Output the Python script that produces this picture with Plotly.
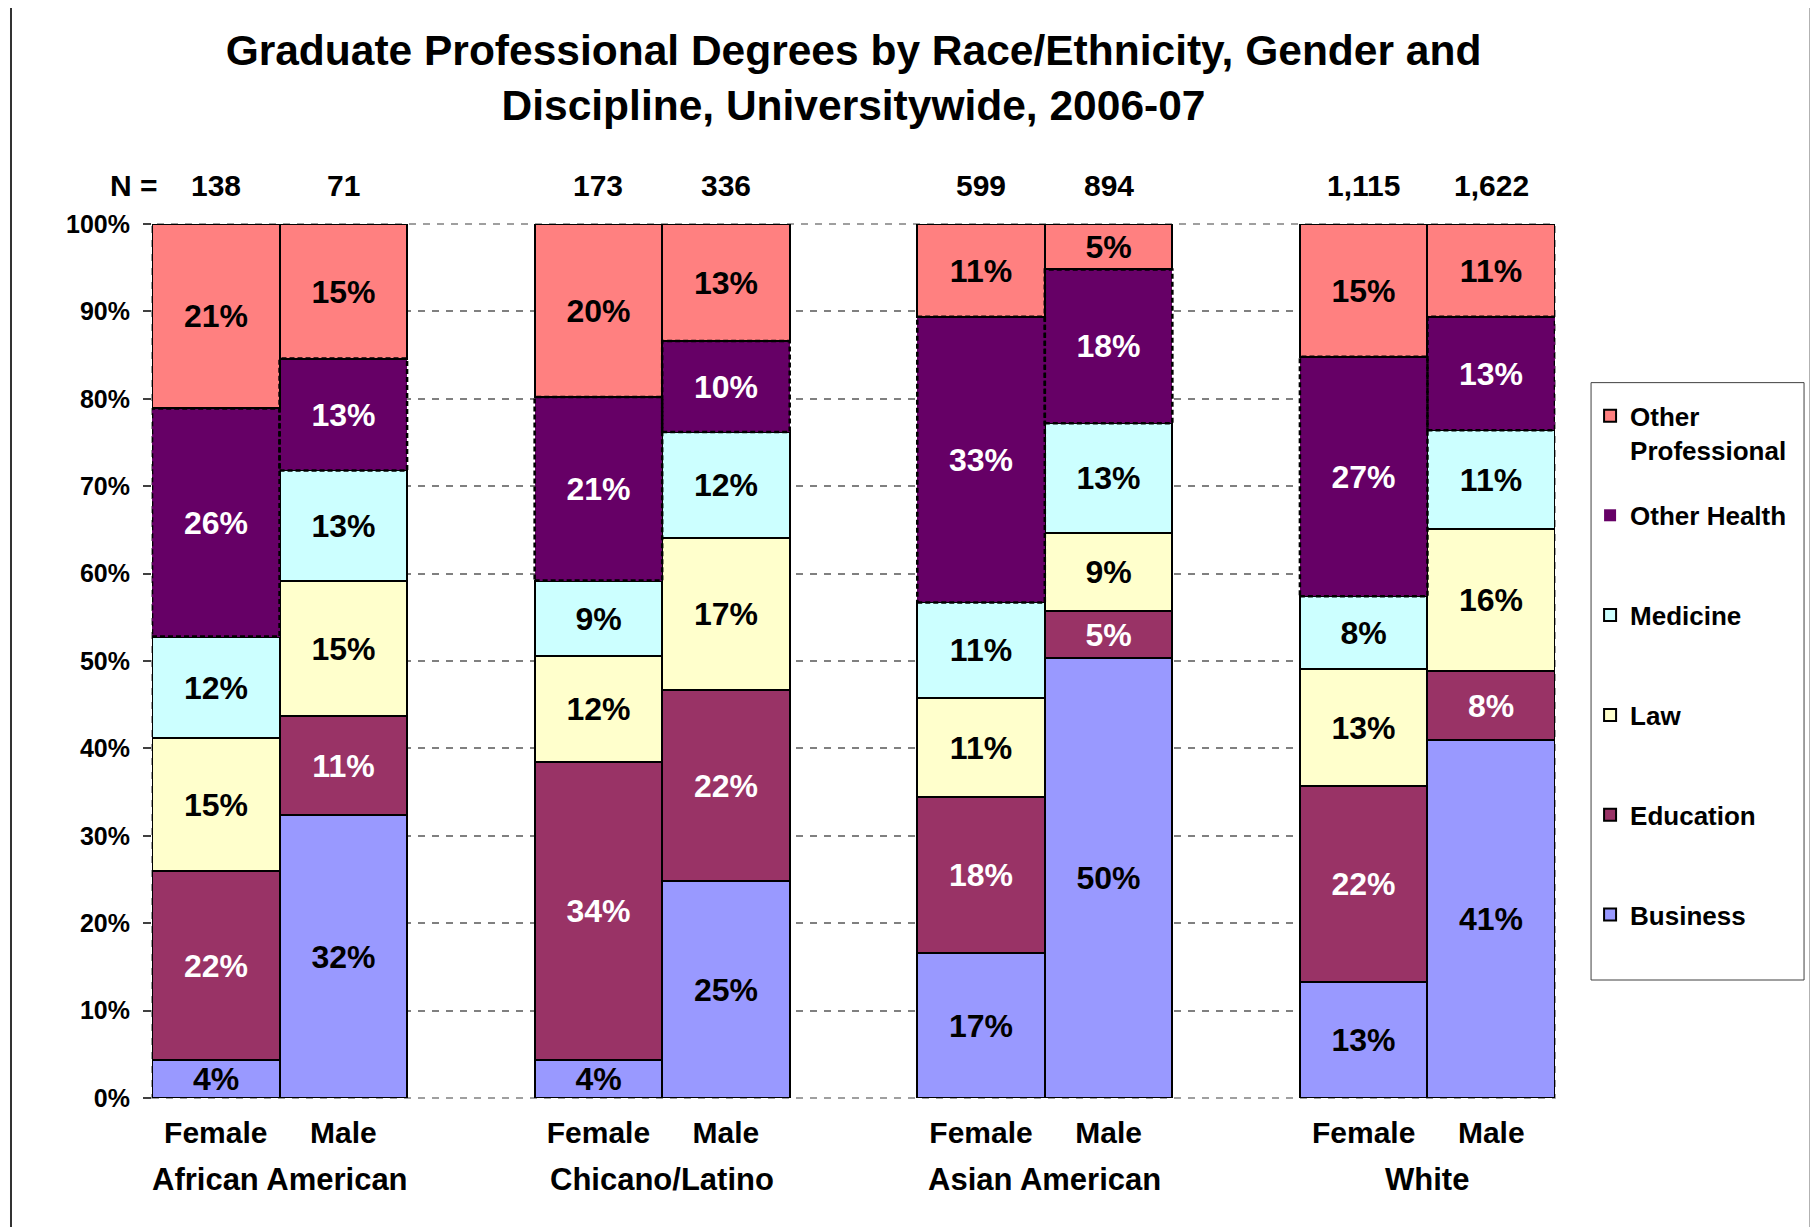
import plotly.graph_objects as go

# ---------------- data ----------------
groups = ["African American", "Chicano/Latino", "Asian American", "White"]
genders = ["Female", "Male"]
n_counts = [138, 71, 173, 336, 599, 894, 1115, 1622]

# percent of degrees (bottom to top of each stacked bar), order:
# AA-F, AA-M, CL-F, CL-M, AS-F, AS-M, WH-F, WH-M
business = [4.4, 32.4, 4.4, 24.8, 16.6, 50.3, 13.3, 41.0]
education = [21.6, 11.3, 34.0, 21.9, 17.8, 5.4, 22.4, 7.9]
law = [15.2, 15.4, 12.2, 17.4, 11.4, 8.9, 13.4, 16.2]
medicine = [11.6, 12.7, 8.6, 12.1, 10.9, 12.6, 8.3, 11.3]
other_health = [26.1, 12.8, 21.0, 10.4, 32.7, 17.6, 27.4, 13.0]
other_prof = [21.1, 15.4, 19.8, 13.4, 10.6, 5.2, 15.2, 10.6]

series_names = ["Business", "Education", "Law", "Medicine", "Other Health", "Other Professional"]
series_values = [business, education, law, medicine, other_health, other_prof]
series_colors = ["#9999FF", "#993366", "#FFFFCC", "#CCFFFF", "#660066", "#FF8080"]
text_colors = ["black", "white", "black", "black", "white", "black"]
legend_ranks = [5, 4, 3, 2, 1, 0]

FONT = "Liberation Sans, Arial, sans-serif"

# x positions: two bars per group, one empty slot between groups
positions = [g * 3 + k for g in range(len(groups)) for k in range(len(genders))]
tick_text = [genders[k] for g in range(len(groups)) for k in range(len(genders))]

fig = go.Figure()
for name, vals, col, tcol, rank in zip(series_names, series_values, series_colors, text_colors, legend_ranks):
    is_oh = name == "Other Health"
    fig.add_trace(go.Bar(
        x=positions, y=vals, name=name if name != "Other Professional" else "Other<br>Professional",
        width=1,
        marker=dict(color=col, line=dict(color=col if is_oh else "black", width=0 if is_oh else 2)),
        texttemplate="%{y:.0f}%",
        textposition="inside", insidetextanchor="middle", constraintext="none",
        textfont=dict(family=FONT, size=32, color=tcol, weight="bold"),
        legend="legend2" if name == "Other Professional" else "legend",
        legendgroup=name, legendrank=rank,
        hoverinfo="skip",
    ))

shapes = []
# dashed borders of the Other Health segments (computed from the data)
for i, p in enumerate(positions):
    y0 = business[i] + education[i] + law[i] + medicine[i]
    y1 = y0 + other_health[i]
    shapes.append(dict(type="rect", xref="x", yref="y", x0=p - 0.5, x1=p + 0.5, y0=y0, y1=y1,
                       line=dict(color="black", width=2.5, dash="5px,3px"), layer="above"))

# plot-area dashed border
shapes.append(dict(type="rect", xref="paper", yref="paper", x0=0, x1=1, y0=0, y1=1,
                   line=dict(color="#808080", width=1.5, dash="7px,7px"), layer="below"))
# legend box
shapes.append(dict(type="rect", xref="paper", yref="paper", x0=1.0257, x1=1.1775, y0=0.135, y1=0.8185,
                   line=dict(color="#404040", width=1)))
# chart frame
shapes.append(dict(type="rect", xref="paper", yref="paper", x0=-0.1005, x1=1.1822, y0=-0.2, y1=1.2506,
                   line=dict(color="#333333", width=2)))

annotations = []
annotations.append(dict(text="N =", xref="x", yref="paper", x=-0.44, y=1.0435, xanchor="right",
                        yanchor="middle", showarrow=False,
                        font=dict(family=FONT, size=30, color="black", weight="bold")))
for p, n in zip(positions, n_counts):
    annotations.append(dict(text=f"{n:,}", xref="x", yref="paper", x=p, y=1.0435, xanchor="center",
                            yanchor="middle", showarrow=False,
                            font=dict(family=FONT, size=30, color="black", weight="bold")))
for g, gname in enumerate(groups):
    annotations.append(dict(text=gname, xref="x", yref="paper", x=g * 3 + 0.5, y=-0.0938,
                            xanchor="center", yanchor="middle", showarrow=False,
                            font=dict(family=FONT, size=31, color="black", weight="bold")))

legend_common = dict(
    xanchor="left", yanchor="top", bgcolor="rgba(0,0,0,0)", borderwidth=0,
    font=dict(family=FONT, size=26, color="black", weight="bold"), valign="top",
)

fig.update_layout(
    width=1810, height=1219,
    margin=dict(l=144, r=263, t=216, b=129, pad=0),
    paper_bgcolor="white", plot_bgcolor="white",
    font=dict(family=FONT, color="black"),
    barmode="stack", bargap=0,
    title=dict(
        text="Graduate Professional Degrees by Race/Ethnicity, Gender and<br>Discipline, Universitywide, 2006-07",
        x=0.5, xref="paper", xanchor="center", y=0.9533, yref="container", yanchor="top",
        font=dict(family=FONT, size=42.5, color="black", weight="bold"),
    ),
    xaxis=dict(range=[-0.5, 10.5], tickvals=positions, ticktext=tick_text, showgrid=False,
               zeroline=False, ticks="", showline=False, ticklabelstandoff=14,
               tickfont=dict(family=FONT, size=30, color="black", weight="bold")),
    yaxis=dict(range=[0, 100], dtick=10, ticksuffix="%", showgrid=True, gridcolor="#808080",
               gridwidth=1.5, griddash="7px,7px", zeroline=False, ticks="outside", ticklen=8,
               tickcolor="#404040", tickwidth=1.5, showline=False, ticklabelstandoff=8,
               tickfont=dict(family=FONT, size=25, color="black", weight="bold")),
    legend=dict(x=1.025, y=0.6935, tracegroupgap=63, traceorder="grouped", **legend_common),
    legend2=dict(x=1.025, y=0.8075, **legend_common),
    uniformtext=dict(mode="show", minsize=31),
    shapes=shapes,
    annotations=annotations,
)

fig.write_html("out.html")
